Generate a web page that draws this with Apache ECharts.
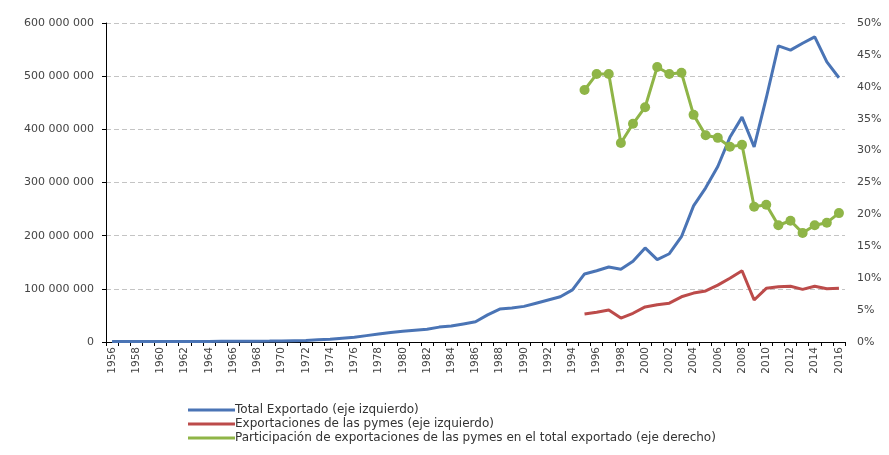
<!DOCTYPE html>
<html>
<head>
<meta charset="utf-8">
<script src="https://cdn.jsdelivr.net/npm/echarts@6/dist/echarts.min.js"></script>
<style>html,body{margin:0;padding:0;background:#fff}#c{width:889px;height:455px}</style>
</head>
<body>
<div id="c"></div>
<script>
var years = [];
for (var y = 1956; y <= 2016; y++) years.push(String(y));

// Total Exportado (1956-2016)
var totalExportado = [
  1000000, 1000000, 1000000, 1000000, 1000000, 1000000, 1000000, 1000000, 1100000, 1200000,
  1300000, 1400000, 1500000, 1700000, 2000000, 2500000, 3000000, 4000000, 5000000, 7000000,
  9000000, 12000000, 15000000, 18000000, 20000000, 22000000, 24000000, 28000000, 30000000, 34000000,
  38000000, 51000000, 62000000, 64000000, 67000000, 73000000, 79000000, 85000000, 98000000, 128000000,
  134000000, 141000000, 137000000, 152000000, 177000000, 155000000, 166000000, 198000000, 256000000, 290000000,
  330000000, 385000000, 423000000, 367000000, 459000000, 557000000, 549000000, 562000000, 574000000, 527000000,
  497000000
];

// Exportaciones de las pymes (1995-2016)
var pymes = [
  null, null, null, null, null, null, null, null, null, null,
  null, null, null, null, null, null, null, null, null, null,
  null, null, null, null, null, null, null, null, null, null,
  null, null, null, null, null, null, null, null, null, 52700000,
  56000000, 60000000, 45000000, 54000000, 66000000, 70000000, 73000000, 85000000, 92000000, 96000000,
  107000000, 120000000, 134000000, 79000000, 101000000, 104000000, 105000000, 99000000, 105000000, 100000000,
  101000000
];

// Participación (%) (1995-2016)
var participacion = [
  null, null, null, null, null, null, null, null, null, null,
  null, null, null, null, null, null, null, null, null, null,
  null, null, null, null, null, null, null, null, null, null,
  null, null, null, null, null, null, null, null, null, 39.5,
  42.0, 42.0, 31.2, 34.2, 36.8, 43.1, 42.0, 42.2, 35.6, 32.4,
  32.0, 30.6, 30.9, 21.2, 21.5, 18.3, 19.0, 17.1, 18.3, 18.7,
  20.2
];

var seriesNames = [
  'Total Exportado (eje izquierdo)',
  'Exportaciones de las pymes (eje izquierdo)',
  'Participación de exportaciones de las pymes en el total exportado (eje derecho)'
];

var FONT = 'DejaVu Sans';
var chart = echarts.init(document.getElementById('c'), null, {renderer: 'canvas'});
chart.setOption({
  animation: false,
  backgroundColor: '#ffffff',
  textStyle: {fontFamily: FONT},
  grid: {left: 106, right: 44, top: 23, bottom: 113, containLabel: false},
  legend: {
    orient: 'vertical',
    left: 183,
    top: 399,
    itemWidth: 47,
    itemHeight: 3,
    itemGap: 2,
    icon: 'rect',
    textStyle: {fontFamily: FONT, fontSize: 12, color: '#333', padding: [0, 0, 0, -5]},
    data: seriesNames
  },
  xAxis: {
    type: 'category',
    data: years,
    boundaryGap: true,
    axisLine: {lineStyle: {color: '#000', width: 1}},
    axisTick: {show: true, interval: 0, length: 4, lineStyle: {color: '#000'}},
    axisLabel: {interval: 1, rotate: 90, fontSize: 10.5, color: '#444', margin: 5, fontFamily: FONT},
    splitLine: {show: false}
  },
  yAxis: [
    {
      type: 'value',
      min: 0, max: 600000000, interval: 100000000,
      axisLine: {show: true, lineStyle: {color: '#000'}},
      axisTick: {show: true, length: 4, lineStyle: {color: '#000'}},
      axisLabel: {
        fontSize: 11, color: '#444', margin: 12, fontFamily: FONT,
        formatter: function (v) { return String(v).replace(/\B(?=(\d{3})+(?!\d))/g, ' '); }
      },
      splitLine: {show: true, lineStyle: {color: '#c4c4c4', type: [5, 3], width: 1}}
    },
    {
      type: 'value',
      min: 0, max: 50, interval: 5,
      position: 'right',
      axisLine: {show: false},
      axisTick: {show: false},
      axisLabel: {fontSize: 11, color: '#444', margin: 12, fontFamily: FONT, formatter: '{value}%'},
      splitLine: {show: false}
    }
  ],
  series: [
    {
      name: seriesNames[0], type: 'line', yAxisIndex: 0, data: totalExportado,
      showSymbol: false, symbol: 'none',
      lineStyle: {color: '#4a74b5', width: 3}, itemStyle: {color: '#4a74b5'}, z: 3
    },
    {
      name: seriesNames[1], type: 'line', yAxisIndex: 0, data: pymes,
      showSymbol: false, symbol: 'none',
      lineStyle: {color: '#bc4b4a', width: 3}, itemStyle: {color: '#bc4b4a'}, z: 3
    },
    {
      name: seriesNames[2], type: 'line', yAxisIndex: 1, data: participacion,
      symbol: 'circle', symbolSize: 10, showSymbol: true, showAllSymbol: true,
      lineStyle: {color: '#8fb547', width: 3}, itemStyle: {color: '#8fb547'}, z: 4
    }
  ]
});
</script>
</body>
</html>
